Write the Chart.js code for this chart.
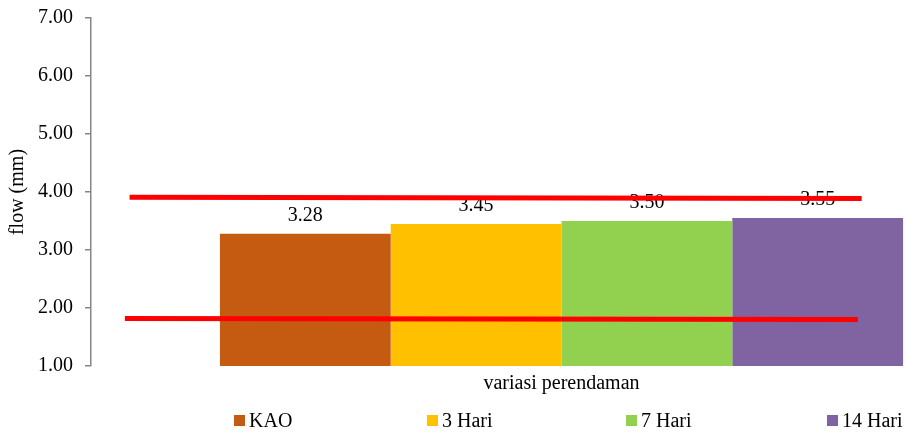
<!DOCTYPE html>
<html>
<head>
<meta charset="utf-8">
<script src="https://cdn.jsdelivr.net/npm/chart.js@4/dist/chart.umd.min.js"></script>
<style>
  html, body { margin: 0; padding: 0; background: #fff; overflow: hidden; }
  #wrap { position: relative; width: 906px; height: 432px; overflow: hidden; }
  #box { position: absolute; left: 0; top: 0; width: 1040px; height: 432px; }
  #legend { position: absolute; left: 0; top: 408px; width: 906px; height: 24px; font-family: "Liberation Serif", "Times New Roman", serif; font-size: 20px; color: #000; }
  .item { position: absolute; top: 0; height: 24px; display: flex; align-items: center; white-space: nowrap; }
  .item:nth-child(1) { left: 234px; }
  .item:nth-child(2) { left: 427px; }
  .item:nth-child(3) { left: 626px; }
  .item:nth-child(4) { left: 827px; }
  .swatch { width: 11px; height: 11px; margin-right: 4px; }
</style>
</head>
<body>
<div id="wrap">
  <div id="box"><canvas id="chart"></canvas></div>
  <div id="legend"></div>
</div>
<script>
// Soaking variations and their flow values (mm)
const categories = ['variasi perendaman'];
const seriesNames = ['KAO', '3 Hari', '7 Hari', '14 Hari'];
const seriesValues = [3.28, 3.45, 3.50, 3.55];
const yTickValues = [1, 2, 3, 4, 5, 6, 7];

// Limit lines: x as a fraction of the category band, y in mm
const upperLimitX = [0.041, 0.819];
const upperLimitY = [3.91, 3.89];
const lowerLimitX = [0.036, 0.815];
const lowerLimitY = [1.82, 1.80];

const seriesColors = ['#C55A11', '#FFC000', '#92D050', '#8064A2'];
const FONT = '"Liberation Serif", "Times New Roman", serif';

const barDatasets = seriesNames.map((name, i) => ({
  label: name,
  data: [seriesValues[i]],
  backgroundColor: seriesColors[i],
  borderWidth: 0,
  barPercentage: 1,
  categoryPercentage: 0.726
}));

// Value labels above each bar
const valueLabels = {
  id: 'valueLabels',
  afterDatasetDraw(chart, args) {
    const ds = chart.data.datasets[args.index];
    const ctx = chart.ctx;
    ctx.save();
    ctx.font = '20px ' + FONT;
    ctx.fillStyle = '#000';
    ctx.textAlign = 'center';
    ctx.textBaseline = 'alphabetic';
    args.meta.data.forEach((bar, j) => {
      ctx.fillText(ds.data[j].toFixed(2), bar.x, bar.y - 13);
    });
    ctx.restore();
  }
};

// Red limit lines drawn on top of the bars, mapped through the chart scales
const limitLines = {
  id: 'limitLines',
  afterDatasetsDraw(chart) {
    const { ctx, scales: { x, y } } = chart;
    const lines = [[upperLimitX, upperLimitY], [lowerLimitX, lowerLimitY]];
    ctx.save();
    ctx.strokeStyle = '#FF0000';
    ctx.lineWidth = 5;
    ctx.lineCap = 'butt';
    lines.forEach(([xs, ys]) => {
      ctx.beginPath();
      xs.forEach((fx, i) => {
        const px = x.getPixelForDecimal(fx);
        const py = y.getPixelForValue(ys[i]);
        if (i === 0) ctx.moveTo(px, py); else ctx.lineTo(px, py);
      });
      ctx.stroke();
    });
    ctx.restore();
  }
};

const chart = new Chart(document.getElementById('chart'), {
  type: 'bar',
  data: { labels: categories, datasets: barDatasets },
  options: {
    responsive: true,
    maintainAspectRatio: false,
    animation: false,
    layout: { padding: { top: 18, right: 8, bottom: 30, left: 6 } },
    plugins: { legend: { display: false }, tooltip: { enabled: false } },
    scales: {
      x: {
        grid: { display: false, drawTicks: false },
        border: { display: false },
        ticks: { color: '#000', padding: 6, font: { family: FONT, size: 20 } }
      },
      y: {
        min: 1, max: 7,
        afterBuildTicks(scale) { scale.ticks = yTickValues.map(v => ({ value: v })); },
        afterFit(scale) { scale.width = 85; scale.paddingTop = 0; },
        grid: { drawOnChartArea: false, drawTicks: true, tickLength: 6, color: '#868686', lineWidth: 1.5 },
        border: { color: '#868686', width: 1.5 },
        ticks: { color: '#000', padding: 12, font: { family: FONT, size: 20 }, callback: v => Number(v).toFixed(2) },
        title: { display: true, text: 'flow (mm)', color: '#000', padding: 0, font: { family: FONT, size: 20 } }
      }
    }
  },
  plugins: [valueLabels, limitLines]
});

// Legend row
const legendEl = document.getElementById('legend');
seriesNames.forEach((name, i) => {
  const item = document.createElement('div');
  item.className = 'item';
  const sw = document.createElement('span');
  sw.className = 'swatch';
  sw.style.background = seriesColors[i];
  const tx = document.createElement('span');
  tx.textContent = name;
  item.appendChild(sw);
  item.appendChild(tx);
  legendEl.appendChild(item);
});
</script>
</body>
</html>
